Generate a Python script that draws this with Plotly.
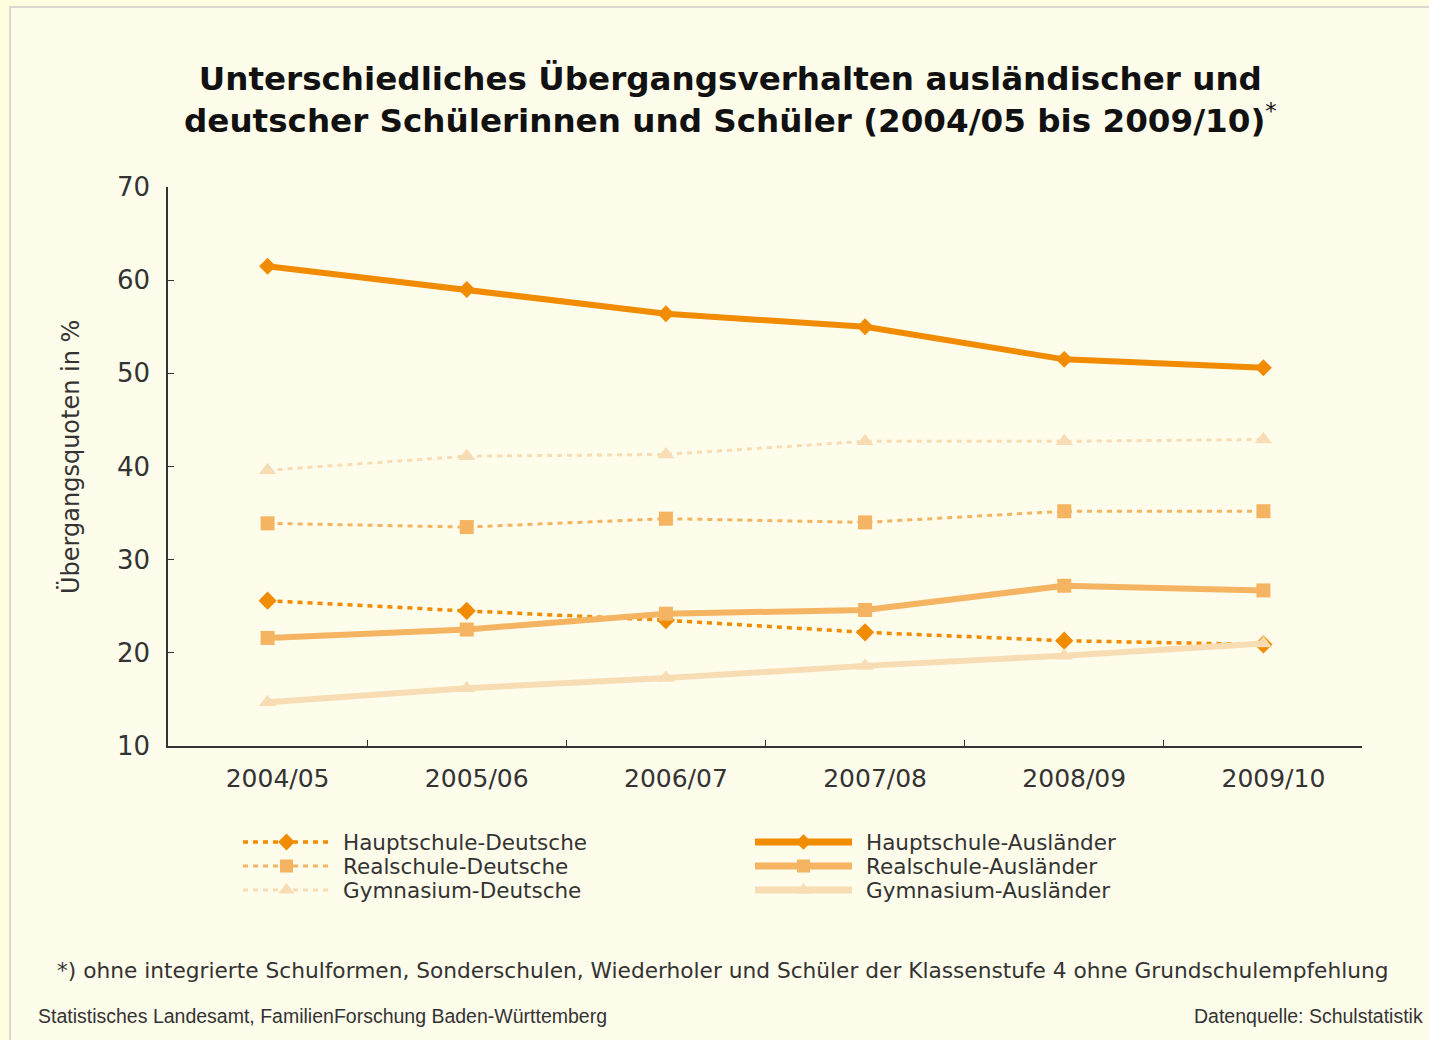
import plotly.graph_objects as go

W, H = 1429, 1040

# ---------------- data ----------------
years = ["2004/05", "2005/06", "2006/07", "2007/08", "2008/09", "2009/10"]
haupt_de = [25.6, 24.5, 23.5, 22.2, 21.3, 20.9]
real_de = [33.9, 33.5, 34.4, 34.0, 35.2, 35.2]
gym_de = [39.6, 41.1, 41.3, 42.7, 42.7, 42.9]
haupt_aus = [61.5, 59.0, 56.4, 55.0, 51.5, 50.6]
real_aus = [21.6, 22.5, 24.2, 24.6, 27.2, 26.7]
gym_aus = [14.7, 16.2, 17.3, 18.6, 19.7, 21.0]

C_HAUPT = "#F18B00"
C_REAL = "#F5B462"
C_GYM = "#F8DCB4"
TXT = "#333333"
FONT = "DejaVu Sans, Verdana, sans-serif"
FONT2 = "Liberation Sans, Arial, sans-serif"

def px(x):
    return x / W

def py(y):
    return 1 - y / H

fig = go.Figure()

series = [
    ("Hauptschule-Deutsche", haupt_de, C_HAUPT, "dash", 3.5, "diamond", 14),
    ("Realschule-Deutsche", real_de, C_REAL, "dash", 3, "square", 14),
    ("Gymnasium-Deutsche", gym_de, C_GYM, "dash", 3, "triangle-up", 15),
    ("Hauptschule-Ausländer", haupt_aus, C_HAUPT, "solid", 6, "diamond", 13),
    ("Realschule-Ausländer", real_aus, C_REAL, "solid", 6, "square", 14),
    ("Gymnasium-Ausländer", gym_aus, C_GYM, "solid", 6, "triangle-up", 15),
]
DASH = "5px,5px"

for name, vals, col, dash, w, sym, ms in series:
    fig.add_trace(go.Scatter(
        x=years, y=vals, name=name, mode="lines+markers",
        line=dict(color=col, width=w, dash=DASH if dash == "dash" else "solid"),
        marker=dict(symbol=sym, size=ms, color=col),
        showlegend=False, xaxis="x", yaxis="y",
    ))

# ---------------- custom legend (overlay pixel axis) ----------------
leg_rows = [842, 866, 890]
leg_cols = [(243, 330, 341), (755, 852, 864)]
for i, (name, vals, col, dash, w, sym, ms) in enumerate(series):
    c = i // 3
    r = i % 3
    x0, x1, xt = leg_cols[c]
    yy = leg_rows[r]
    fig.add_trace(go.Scatter(
        x=[x0, x1], y=[yy, yy], mode="lines",
        line=dict(color=col, width=w + (1 if dash == "solid" else 0),
                  dash=DASH if dash == "dash" else "solid"),
        showlegend=False, hoverinfo="skip", xaxis="x2", yaxis="y2",
    ))
    fig.add_trace(go.Scatter(
        x=[(x0 + x1) / 2], y=[yy], mode="markers",
        marker=dict(symbol=sym, size=ms - 1, color=col),
        showlegend=False, hoverinfo="skip", xaxis="x2", yaxis="y2",
    ))
    fig.add_annotation(
        x=px(xt), y=py(yy), xref="paper", yref="paper", text=name,
        showarrow=False, xanchor="left", yanchor="middle",
        font=dict(family=FONT, size=21.5, color=TXT),
    )

# ---------------- layout ----------------
fig.update_layout(
    width=W, height=H,
    margin=dict(l=0, r=0, t=0, b=0, pad=0, autoexpand=False),
    paper_bgcolor="#FFFFE0",
    plot_bgcolor="rgba(0,0,0,0)",
    font=dict(family=FONT, color=TXT),
    showlegend=False,
    xaxis=dict(
        type="category", domain=[px(168), px(1362)], range=[-0.5, 5.495],
        showline=True, linecolor="#333333", linewidth=1.5,
        ticks="inside", tickson="boundaries", ticklen=6, tickcolor="#333333",
        tickfont=dict(family=FONT, size=25, color=TXT),
        ticklabelshift=10, ticklabelstandoff=9,
        showgrid=False, zeroline=False, fixedrange=True, automargin=False,
    ),
    yaxis=dict(
        domain=[py(746), py(187)], range=[10, 70], dtick=10,
        showline=True, linecolor="#333333", linewidth=1.5,
        ticks="inside", ticklen=6, tickcolor="#333333",
        tickfont=dict(family=FONT, size=26, color=TXT),
        ticklabelstandoff=11,
        showgrid=False, zeroline=False, fixedrange=True, automargin=False,
    ),
    xaxis2=dict(domain=[0, 1], range=[0, W], visible=False, fixedrange=True,
                anchor="y2", automargin=False),
    yaxis2=dict(domain=[0, 1], range=[H, 0], visible=False, fixedrange=True,
                anchor="x2", automargin=False),
    shapes=[
        dict(type="rect", xref="paper", yref="paper",
             x0=px(10), x1=px(W + 20), y0=py(H + 20), y1=py(7),
             fillcolor="#FEFCEA", line=dict(color="#D9D9CF", width=2), layer="below"),
    ],
)

fig.add_annotation(
    x=px(70), y=py(457), xref="paper", yref="paper",
    text="Übergangsquoten in %", textangle=-90,
    showarrow=False, xanchor="center", yanchor="middle",
    font=dict(family=FONT, size=24, color=TXT),
)

fig.add_annotation(
    x=px(730), y=py(100), xref="paper", yref="paper",
    text="<b>Unterschiedliches Übergangsverhalten ausländischer und<br>"
         "deutscher Schülerinnen und Schüler (2004/05 bis 2009/10)</b><sup>*</sup>",
    showarrow=False, xanchor="center", yanchor="middle", align="center",
    font=dict(family=FONT, size=32.6, color="#111111"),
)

fig.add_annotation(
    x=px(55), y=py(970), xref="paper", yref="paper",
    text="*) ohne integrierte Schulformen, Sonderschulen, Wiederholer und Schüler der Klassenstufe 4 ohne Grundschulempfehlung",
    showarrow=False, xanchor="left", yanchor="middle",
    font=dict(family=FONT, size=21.7, color=TXT),
)
fig.add_annotation(
    x=px(36), y=py(1016), xref="paper", yref="paper",
    text="Statistisches Landesamt, FamilienForschung Baden-Württemberg",
    showarrow=False, xanchor="left", yanchor="middle",
    font=dict(family=FONT2, size=19.5, color=TXT),
)
fig.add_annotation(
    x=px(1425), y=py(1016), xref="paper", yref="paper",
    text="Datenquelle: Schulstatistik",
    showarrow=False, xanchor="right", yanchor="middle",
    font=dict(family=FONT2, size=19.5, color=TXT),
)

fig.write_html("out.html", config={"displayModeBar": False},
               post_script="document.body.style.margin='0';")
